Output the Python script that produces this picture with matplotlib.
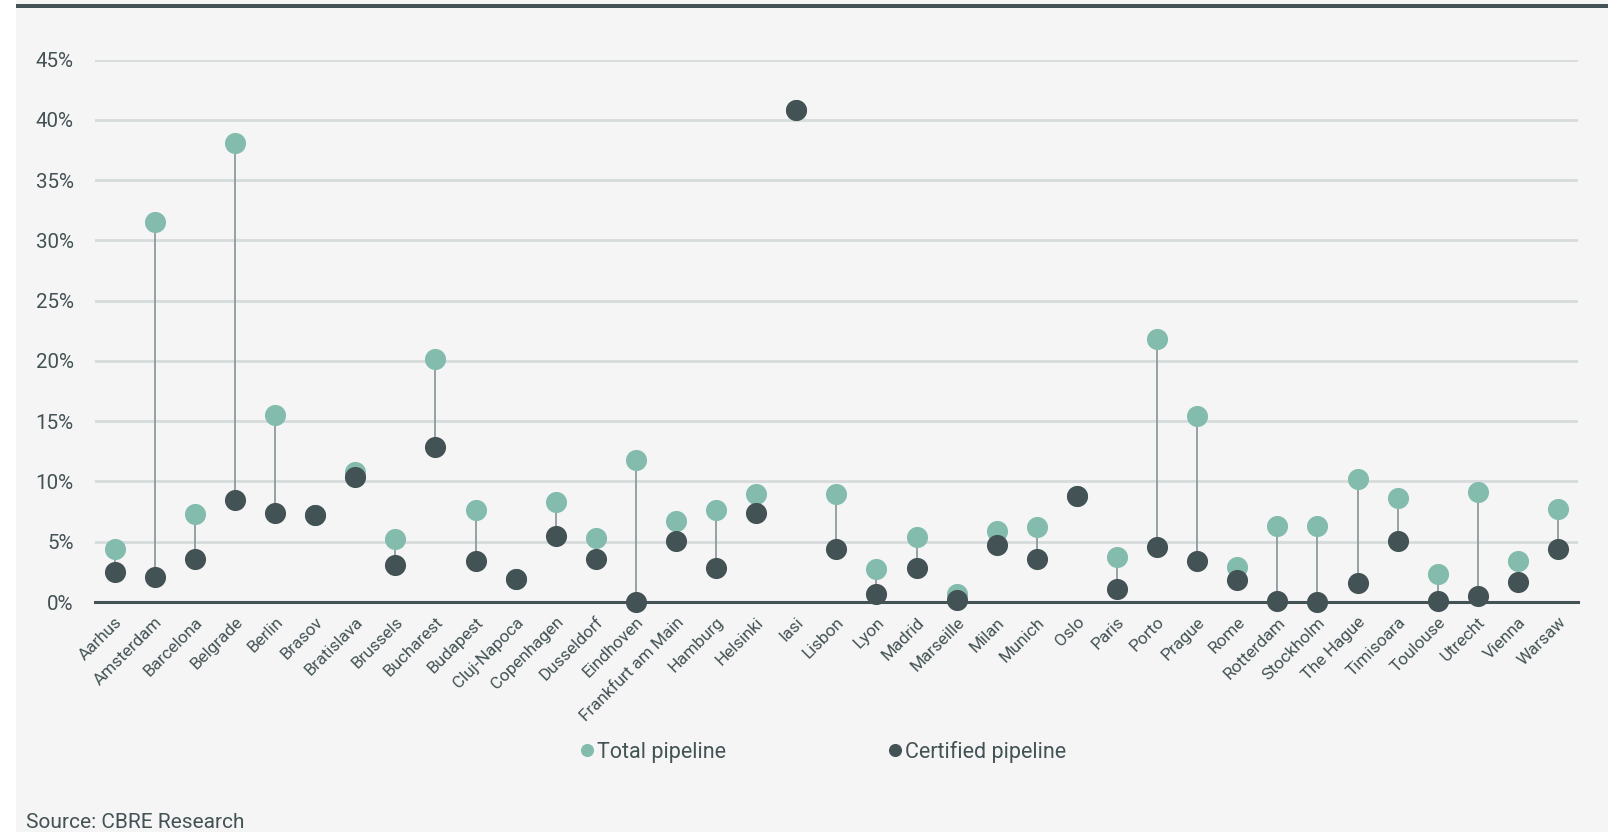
import matplotlib.pyplot as plt
import matplotlib.patches as patches
from matplotlib.ticker import MultipleLocator, FuncFormatter

plt.rcParams['font.family'] = ['Roboto', 'DejaVu Sans']

cities = ["Aarhus", "Amsterdam", "Barcelona", "Belgrade", "Berlin", "Brasov",
          "Bratislava", "Brussels", "Bucharest", "Budapest", "Cluj-Napoca",
          "Copenhagen", "Dusseldorf", "Eindhoven", "Frankfurt am Main",
          "Hamburg", "Helsinki", "Iasi", "Lisbon", "Lyon", "Madrid",
          "Marseille", "Milan", "Munich", "Oslo", "Paris", "Porto", "Prague",
          "Rome", "Rotterdam", "Stockholm", "The Hague", "Timisoara",
          "Toulouse", "Utrecht", "Vienna", "Warsaw"]

total = [4.4, 31.5, 7.3, 38.1, 15.5, 7.2, 10.8, 5.2, 20.2, 7.6, 1.9,
         8.3, 5.3, 11.8, 6.7, 7.6, 9.0, 40.8, 9.0, 2.7, 5.4, 0.7, 5.9,
         6.2, 8.8, 3.7, 21.8, 15.4, 2.9, 6.3, 6.3, 10.2, 8.6, 2.3, 9.1,
         3.4, 7.7]

certified = [2.5, 2.1, 3.6, 8.5, 7.4, 7.2, 10.4, 3.1, 12.9, 3.4, 1.9,
             5.5, 3.6, 0.0, 5.1, 2.8, 7.4, 40.8, 4.4, 0.7, 2.8, 0.2, 4.7,
             3.6, 8.8, 1.1, 4.6, 3.4, 1.8, 0.1, 0.0, 1.6, 5.1, 0.1, 0.5,
             1.7, 4.4]

bg = '#f5f5f5'
teal = '#83bcad'
dark = '#435254'
grid_c = '#d6dbdb'
stem_c = '#8d9b9c'

fig = plt.figure(figsize=(16.11, 8.32), dpi=100, facecolor='white')
fig.patches.append(patches.Rectangle((16 / 1611, 0), 1592 / 1611, 1,
                                     transform=fig.transFigure,
                                     facecolor=bg, edgecolor='none', zorder=-10))
fig.patches.append(patches.Rectangle((16 / 1611, 1 - 8 / 832), 1592 / 1611, 4 / 832,
                                     transform=fig.transFigure,
                                     facecolor=dark, edgecolor='none', zorder=-5))

ax = fig.add_axes([94.7 / 1611, 1 - 602 / 832, (1578 - 94.7) / 1611, (602 - 59.6) / 832])
ax.set_facecolor('none')

x = range(len(cities))
ax.vlines(x, certified, total, color=stem_c, lw=1.3, zorder=2)
ax.plot(x, total, 'o', ms=15.2, color=teal, mec='none', zorder=3, clip_on=False,
        label='Total pipeline')
ax.plot(x, certified, 'o', ms=15.2, color=dark, mec='none', zorder=4, clip_on=False,
        label='Certified pipeline')

ax.set_xlim(-0.5, len(cities) - 0.5)
ax.set_ylim(0, 45)
ax.yaxis.set_major_locator(MultipleLocator(5))
ax.yaxis.set_major_formatter(FuncFormatter(lambda v, p: f"{v:.0f}%"))
ax.grid(axis='y', color=grid_c, lw=2)
ax.set_axisbelow(True)
for s in ['top', 'right', 'left']:
    ax.spines[s].set_visible(False)
ax.spines['bottom'].set_color(dark)
ax.spines['bottom'].set_linewidth(2.2)
ax.spines['bottom'].set_zorder(2.5)

ax.set_xticks(list(x))
ax.set_xticklabels(cities, rotation=45, ha='right', rotation_mode='anchor',
                   fontsize=12.3, color=dark)
ax.tick_params(axis='x', length=0, pad=9)
ax.tick_params(axis='y', length=0, pad=15, labelsize=14.8, labelcolor=dark)

leg = fig.legend(loc='center', bbox_to_anchor=(824 / 1611, 1 - 752 / 832), ncol=2,
                 frameon=False, fontsize=15.5, labelcolor=dark, markerscale=0.62,
                 handlelength=0.5, handletextpad=0.2, columnspacing=7.6)

fig.text(26 / 1611, 1 - 822 / 832, "Source: CBRE Research", fontsize=15,
         color=dark, va='center', ha='left')

fig.savefig('out.png', dpi=100, facecolor=fig.get_facecolor())
